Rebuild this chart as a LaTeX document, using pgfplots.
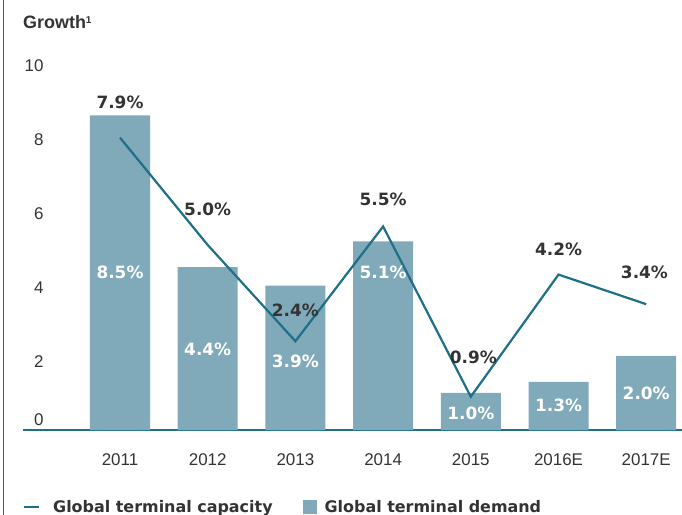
\documentclass[border=0pt]{standalone}
\usepackage{pgfplots}
\pgfplotsset{compat=1.18}
\usepackage{pgfplotstable}
\usepackage{fontspec}
\setmainfont{Liberation Sans}
\newfontfamily\dv{DejaVu Sans}
\definecolor{barcol}{HTML}{80A9BA}
\definecolor{linecol}{HTML}{1E6F87}
\definecolor{txt}{HTML}{333333}
\pgfplotstableread{
x dem cap demy capx capy
0 8.5 7.9 4.27 0.00 8.86
1 4.4 5.0 2.19 1.00 5.95
2 3.9 2.4 1.86 2.00 3.24
3 5.1 5.5 4.27 3.00 6.22
4 1.0 0.9 0.46 4.03 1.97
5 1.3 4.2 0.68 5.00 4.89
6 2.0 3.4 1.00 5.98 4.27
}\data
\begin{document}
\begin{tikzpicture}
\begin{axis}[
  scale only axis, width=659bp, height=430bp,
  xmin=-1.106, xmax=6.408, ymin=0, ymax=11.62,
  axis x line*=bottom, axis y line*=left,
  y axis line style={draw=none},
  x axis line style={linecol, line width=1.5bp},
  major tick length=0pt,
  /pgf/number format/assume math mode=true,
  xtick={0,...,6}, xticklabels={2011,2012,2013,2014,2015,2016E,2017E},
  xticklabel style={font=\fontsize{17}{17}\selectfont, text=txt, yshift=-20bp},
  ytick={0,2,4,6,8,10},
  yticklabels={\raisebox{16bp}[\height][\depth]{0},2,4,6,8,10},
  yticklabel style={font=\fontsize{17}{17}\selectfont, text=txt, anchor=east, xshift=24bp, yshift=-6bp},
  legend style={draw=none, fill=none, at={(rel axis cs:0,0)}, anchor=west, xshift=-3bp, yshift=-77bp,
    font=\dv\bfseries\fontsize{16}{16}\selectfont, text=txt,
    /tikz/every even column/.append style={column sep=28bp}},
  legend columns=2, legend cell align=left,
]
\addlegendimage{legend image code/.code={\draw[linecol,line width=2bp](0bp,0bp)--(15bp,0bp); \path[draw=none,fill=none] (0bp,0bp)--(27bp,0bp);}}
\addlegendentry{Global terminal capacity}
\addlegendimage{legend image code/.code={\fill[barcol,draw=none](0bp,-7bp) rectangle (14bp,7bp); \path[draw=none,fill=none] (0bp,0bp)--(20bp,0bp);}}
\addlegendentry{Global terminal demand}

\addplot[ybar, bar width=60bp, fill=barcol, draw=none, forget plot] table[x=x, y=dem]{\data};
\addplot[linecol, line width=2.2bp, mark=none, forget plot] table[x=x, y=cap]{\data};

\addplot[draw=none, mark=none, forget plot, point meta=explicit,
  nodes near coords={\pgfmathprintnumber[fixed, fixed zerofill, precision=1, assume math mode=true]{\pgfplotspointmeta}\%},
  every node near coord/.style={font=\dv\bfseries\fontsize{17}{17}\selectfont, text=white, anchor=center}]
  table[x=x, y=demy, meta=dem]{\data};
\addplot[draw=none, mark=none, forget plot, point meta=explicit,
  nodes near coords={\pgfmathprintnumber[fixed, fixed zerofill, precision=1, assume math mode=true]{\pgfplotspointmeta}\%},
  every node near coord/.style={font=\dv\bfseries\fontsize{17}{17}\selectfont, text=txt, anchor=center}]
  table[x=capx, y=capy, meta=cap]{\data};

\node[anchor=west, inner sep=0pt, font=\bfseries\fontsize{18}{18}\selectfont, text=txt] at (rel axis cs:0,1) [xshift=0bp, yshift=-22bp] {Growth\raisebox{5bp}{\fontsize{10}{10}\selectfont 1}};
\end{axis}
\draw[txt!80, line width=1bp] (-19bp,-85bp) -- (-19bp,430bp);
\pgfresetboundingbox
\path[use as bounding box] (-23bp,-85bp) rectangle (659bp,430bp);
\end{tikzpicture}
\end{document}
